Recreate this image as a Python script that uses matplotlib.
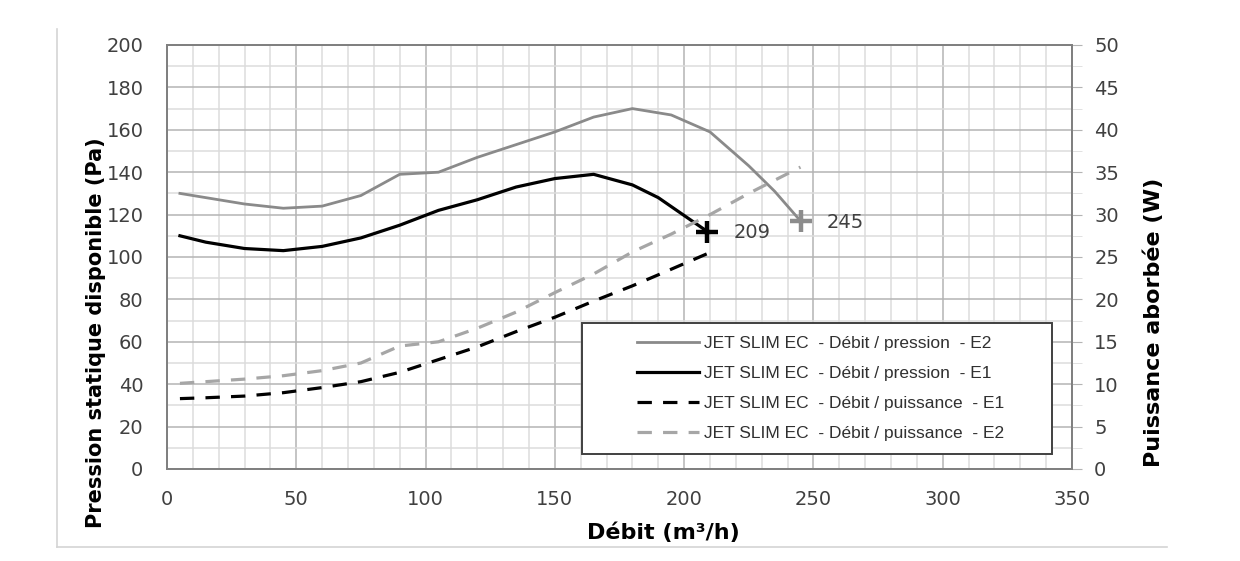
import matplotlib
matplotlib.use('Agg')
from matplotlib import pyplot as plt
from matplotlib.ticker import MultipleLocator
from matplotlib.lines import Line2D
from matplotlib.patches import Rectangle

# Débit (m3/h) and pression (Pa)
debit_e2 = [5, 15, 30, 45, 60, 75, 90, 105, 120, 135, 150, 165, 180, 195, 210, 225, 235, 245]
pression_e2 = [130, 128, 125, 123, 124, 129, 139, 140, 147, 153, 159, 166, 170, 167, 159, 143, 131, 117]

debit_e1 = [5, 15, 30, 45, 60, 75, 90, 105, 120, 135, 150, 165, 180, 190, 209]
pression_e1 = [110, 107, 104, 103, 105, 109, 115, 122, 127, 133, 137, 139, 134, 128, 112]

# puissance (W)
puiss_e1 = [8.3, 8.4, 8.6, 9.0, 9.6, 10.3, 11.4, 12.9, 14.4, 16.2, 17.9, 19.8, 21.6, 22.9, 25.4]
debit_p2 = [5, 15, 30, 45, 60, 75, 90, 105, 120, 135, 150, 165, 180, 195, 210, 225, 245]
puiss_e2 = [10.1, 10.3, 10.6, 11.0, 11.6, 12.5, 14.5, 15.0, 16.6, 18.5, 20.8, 23.0, 25.6, 27.7, 30.0, 32.5, 35.6]

end_points = [(209, 112, '209', 'black'), (245, 117, '245', '#8c8c8c')]

labels = ["JET SLIM EC  - Débit / pression  - E2",
          "JET SLIM EC  - Débit / pression  - E1",
          "JET SLIM EC  - Débit / puissance  - E1",
          "JET SLIM EC  - Débit / puissance  - E2"]

plt.rcParams['font.family'] = ['DejaVu Sans']

W, H = 1240, 561
fig = plt.figure(figsize=(12.4, 5.61), dpi=100)
ax = fig.add_axes([167/W, 1-469/H, (1072-167)/W, (469-45)/H])
ax2 = ax.twinx()

gray = '#8a8a8a'
gray2 = '#a6a6a6'
tick_col = '#404040'

ax.set_xlim(0, 350)
ax.set_ylim(0, 200)
ax2.set_ylim(0, 50)

ax.xaxis.set_major_locator(MultipleLocator(50))
ax.xaxis.set_minor_locator(MultipleLocator(10))
ax.yaxis.set_major_locator(MultipleLocator(20))
ax.yaxis.set_minor_locator(MultipleLocator(10))
ax2.yaxis.set_major_locator(MultipleLocator(5))
ax2.yaxis.set_minor_locator(MultipleLocator(2.5))

ax.grid(which='major', color='#b4b4b4', lw=1.1)
ax.grid(which='minor', color='#dcdcdc', lw=1.1)
ax.set_axisbelow(True)

for a in (ax, ax2):
    for s in a.spines.values():
        s.set_color('#808080')
        s.set_linewidth(1.3)

ax.tick_params(axis='y', which='both', length=0, labelsize=14, labelcolor=tick_col, pad=17)
ax.tick_params(axis='x', which='both', length=0, labelsize=14, labelcolor=tick_col, pad=15)
ax2.tick_params(axis='y', which='major', length=7, color='#b4b4b4', labelsize=14, labelcolor=tick_col, pad=9)
ax2.tick_params(axis='y', which='minor', length=7, color='#dcdcdc')

l1, = ax.plot(debit_e2, pression_e2, color=gray, lw=2.0)
l2, = ax.plot(debit_e1, pression_e1, color='black', lw=2.3)
l3, = ax2.plot(debit_e1, puiss_e1, color='black', lw=2.3, dashes=(4.5, 3.5))
l4, = ax2.plot(debit_p2, puiss_e2, color=gray2, lw=2.3, dashes=(4.5, 3.5))

for x, y, txt, c in end_points:
    ax.plot(x, y, marker='+', ms=16, mew=3.2, color=c, zorder=5)
    ax.annotate(txt, (x, y), xytext=(19, -1), textcoords='offset points',
                fontsize=14, color=tick_col, va='center', ha='left')

# axis titles placed like in the source chart
fig.text(663/W, 1-533/H, 'Débit (m³/h)', fontsize=16, fontweight='bold', ha='center', va='center')
fig.text(96/W, 1-333/H, 'Pression statique disponible (Pa)', fontsize=15, fontweight='bold',
         rotation=90, ha='center', va='center')
fig.text(1154/W, 1-322/H, 'Puissance aborbée (W)', fontsize=16, fontweight='bold',
         rotation=90, ha='center', va='center')

# legend box
bx0, by0, bx1, by1 = 582, 323, 1052, 454
ax.add_patch(Rectangle((bx0/W, 1-by1/H), (bx1-bx0)/W, (by1-by0)/H, transform=fig.transFigure,
                       facecolor='white', edgecolor='#404040', lw=1.4, zorder=10))
leg = fig.legend([l1, l2, l3, l4], labels, loc='center', frameon=False,
                 bbox_to_anchor=((bx0+bx1)/2/W + 0.003, 1-(by0+by1)/2/H),
                 prop={'family': ['Liberation Sans Narrow', 'Liberation Sans'], 'size': 12.5},
                 handlelength=3.6, handletextpad=0.3, labelspacing=0.85)
leg.set_zorder(11)
for t in leg.get_texts():
    t.set_color('#303030')

# outer frame lines
fig.add_artist(Line2D([57/W, 57/W], [1-29/H, 1-547/H], color='#d4d4d4', lw=1.2))
fig.add_artist(Line2D([57/W, 1167/W], [1-547/H, 1-547/H], color='#d4d4d4', lw=1.2))

fig.savefig('out.png', dpi=100)
